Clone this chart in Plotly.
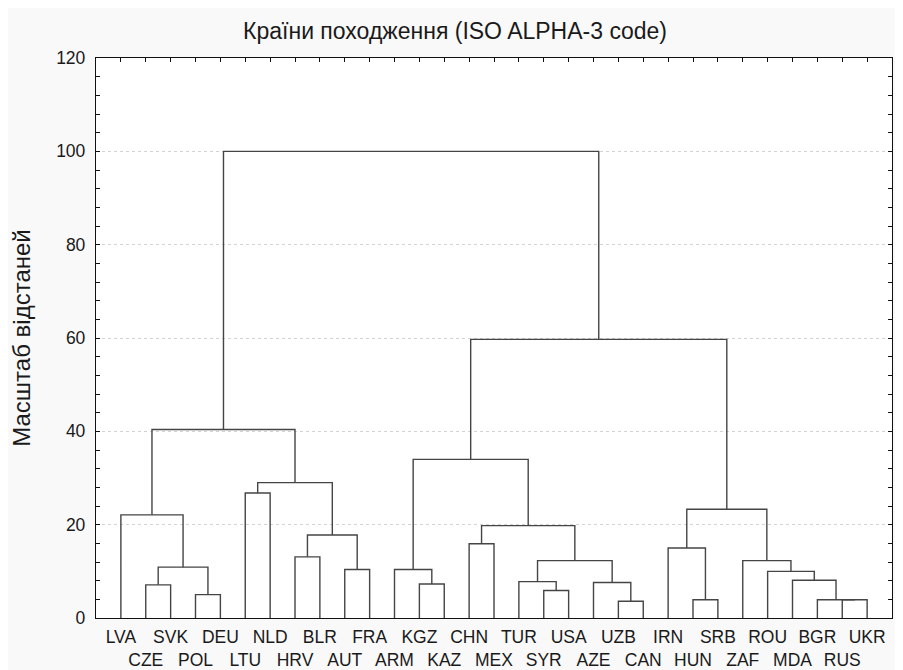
import plotly.graph_objects as go

# ---- data ----
leaves = ["LVA", "CZE", "SVK", "POL", "DEU", "LTU", "NLD", "HRV", "BLR", "AUT", "FRA",
          "ARM", "KGZ", "KAZ", "CHN", "MEX", "TUR", "SYR", "USA", "AZE", "UZB", "CAN",
          "IRN", "HUN", "SRB", "ZAF", "ROU", "MDA", "BGR", "RUS", "UKR"]

# merges: (left member, right member, linkage distance); "cN" refers to merge N
merge_left = ["CZE", "POL", "c0", "LVA", "LTU", "HRV", "AUT", "c5", "c4", "c3",
              "KGZ", "ARM", "CHN", "SYR", "TUR", "UZB", "AZE", "c14", "c12", "c11",
              "HUN", "IRN", "RUS", "BGR", "MDA", "ROU", "ZAF", "c21", "c19", "c9"]
merge_right = ["SVK", "DEU", "c1", "c2", "NLD", "BLR", "FRA", "c6", "c7", "c8",
               "KAZ", "c10", "MEX", "USA", "c13", "CAN", "c15", "c16", "c17", "c18",
               "SRB", "c20", "UKR", "c22", "c23", "c24", "c25", "c26", "c27", "c28"]
merge_height = [7.1, 5.0, 10.9, 22.1, 26.8, 13.1, 10.4, 17.8, 29.0, 40.4,
                7.3, 10.4, 15.9, 5.9, 7.8, 3.6, 7.6, 12.3, 19.8, 34.0,
                3.9, 15.0, 3.9, 3.9, 8.1, 10.0, 12.3, 23.3, 59.7, 100.0]

title_text = "Країни походження (ISO ALPHA-3 code)"
ytitle_text = "Масштаб відстаней"

# ---- build dendrogram segments ----
pos = {name: (i, 0.0) for i, name in enumerate(leaves)}
xs, ys = [], []
for k, (a, b, h) in enumerate(zip(merge_left, merge_right, merge_height)):
    xa, ya = pos[a]
    xb, yb = pos[b]
    xs += [xa, xa, xb, xb, None]
    ys += [ya, h, h, yb, None]
    pos[f"c{k}"] = ((xa + xb) / 2.0, h)

FONT = "Arial, Liberation Sans, sans-serif"
ticktext = [("<br>" + n) if i % 2 else n for i, n in enumerate(leaves)]

W, H = 895, 662

fig = go.Figure()
fig.add_trace(go.Scatter(x=xs, y=ys, mode="lines",
                         line=dict(color="#454545", width=1.4),
                         hoverinfo="skip", showlegend=False))
fig.add_trace(go.Scatter(x=[0], y=[0], xaxis="x2", mode="markers",
                         marker=dict(opacity=0), hoverinfo="skip", showlegend=False))

fig.update_layout(
    width=W, height=H,
    margin=dict(l=88, r=11, t=50, b=52, autoexpand=False),
    paper_bgcolor="#f9f9f9", plot_bgcolor="white",
    font=dict(family=FONT, size=17.5, color="#1a1a1a"),
    title=dict(text=title_text, x=(455 - 8) / W, xref="container", xanchor="center",
               y=1 - 23 / H, yref="container", yanchor="middle",
               font=dict(size=23, color="#1a1a1a")),
    xaxis=dict(range=[-1, 31], tickmode="array", tickvals=list(range(len(leaves))),
               ticktext=ticktext, ticks="", tickangle=0, showgrid=False, zeroline=False,
               showline=True, linecolor="#111", linewidth=1.3, automargin=False,
               tickfont=dict(size=17.5), ticklabelstandoff=3),
    xaxis2=dict(range=[-1, 31], overlaying="x", side="top", anchor="y",
                tickmode="array", tickvals=list(range(len(leaves))),
                showticklabels=False, ticks="inside", ticklen=4, tickcolor="#111",
                showgrid=False, zeroline=False, showline=True, automargin=False,
                linecolor="#111", linewidth=1.3),
    yaxis=dict(range=[0, 120], tickmode="linear", tick0=0, dtick=20,
               ticks="inside", ticklen=4, tickcolor="#111", automargin=False,
               minor=dict(dtick=4, ticks="inside", ticklen=4, tickcolor="#111", showgrid=False),
               showline=True, linecolor="#111", linewidth=1.3, mirror="ticks",
               showgrid=True, gridcolor="#d2d2d2", griddash="dot", gridwidth=1,
               zeroline=False, ticklabelstandoff=6,
               title=dict(text=ytitle_text, font=dict(size=24), standoff=22)),
)

fig.write_html("out.html")
